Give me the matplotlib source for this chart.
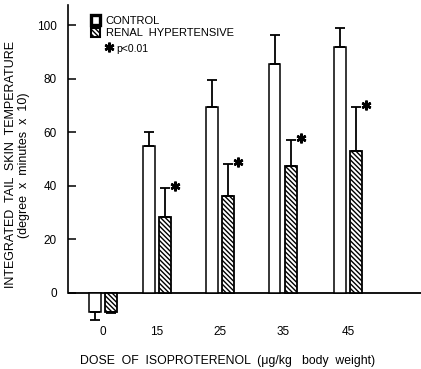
import numpy as np
import matplotlib
matplotlib.use("Agg")
import matplotlib.pyplot as plt
from matplotlib.patches import Patch

plt.rcParams['font.family'] = ['Liberation Sans', 'DejaVu Sans']
plt.rcParams['hatch.linewidth'] = 1.0

doses = ['0', '15', '25', '35', '45']
xpos = [0, 0.87, 1.89, 2.9, 3.95]
control = [-7, 55, 69.5, 85.5, 92]
control_err = [3.3, 5, 10, 10.7, 7]
renal = [-7, 28.5, 36.3, 47.5, 53]
renal_err = [0.7, 10.5, 11.8, 9.5, 16.5]
signif = [False, True, True, True, True]

x = np.array(xpos)
w = 0.185
off = 0.13
hatch = '\\\\\\\\\\\\\\'

def one_sided(vals, errs):
    vals = np.array(vals); errs = np.array(errs)
    lo = np.where(vals < 0, errs, 0)
    hi = np.where(vals >= 0, errs, 0)
    return [lo, hi]

fig = plt.figure(figsize=(4.21, 3.69), dpi=100)
ax = fig.add_axes([68/421, 44/369, 353/421, 320/369])

ax.bar(x - off, control, w, color='white', edgecolor='black', linewidth=1.1)
ax.bar(x + off, renal, w, color='white', edgecolor='black', linewidth=1.3,
       hatch=hatch)
ax.errorbar(x - off, control, yerr=one_sided(control, control_err), fmt='none',
            ecolor='black', elinewidth=1.3, capsize=3.5, capthick=1.3)
ax.errorbar(x + off, renal, yerr=one_sided(renal, renal_err), fmt='none',
            ecolor='black', elinewidth=1.3, capsize=3.5, capthick=1.3)

for xi, v, e, s in zip(x, renal, renal_err, signif):
    if s:
        ax.plot(xi + off + 0.16, v + e + 0.8, marker=(6, 2, 0), color='black',
                markersize=7, mew=1.8)

ax.axhline(0, color='black', linewidth=1.3, zorder=0)

ax.set_xlim(-0.565, 5.13)
ax.set_ylim(-12, 107.5)
for s in ['top', 'right', 'bottom']:
    ax.spines[s].set_visible(False)
ax.spines['left'].set_bounds(0, 107.5)
ax.spines['left'].set_linewidth(1.2)

ax.set_yticks([0, 20, 40, 60, 80, 100])
ax.tick_params(axis='y', direction='in', length=6, width=1.1, labelsize=8.5, pad=8)
ax.set_xticks(x)
ax.set_xticklabels(doses)
ax.tick_params(axis='x', length=0, labelsize=8.5, pad=1)

ax.set_ylabel('INTEGRATED  TAIL  SKIN  TEMPERATURE\n(degree  x  minutes  x  10)',
              fontsize=9, linespacing=1.1)
ax.yaxis.set_label_coords(-0.108, 0.5)
ax.set_xlabel('DOSE  OF  ISOPROTERENOL  (μg/kg   body  weight)', fontsize=8.8)
ax.xaxis.set_label_coords(0.453, -0.095)

handles = [Patch(facecolor='white', edgecolor='black', linewidth=2.4),
           Patch(facecolor='white', edgecolor='black', linewidth=1.5,
                 hatch=hatch)]
ax.legend(handles, ['CONTROL', 'RENAL  HYPERTENSIVE'], loc='upper left',
          bbox_to_anchor=(0.05, 0.985), frameon=False, fontsize=8,
          handlelength=0.8, handleheight=0.9, handletextpad=0.5,
          labelspacing=0.2, borderpad=0)
ax.plot([0.117], [0.87], transform=ax.transAxes, marker=(6, 2, 0),
        color='black', markersize=7, mew=1.8, clip_on=False)
ax.text(0.138, 0.862, 'p<0.01', transform=ax.transAxes, fontsize=7.5,
        va='center', ha='left')

fig.savefig('out.png', dpi=100)
